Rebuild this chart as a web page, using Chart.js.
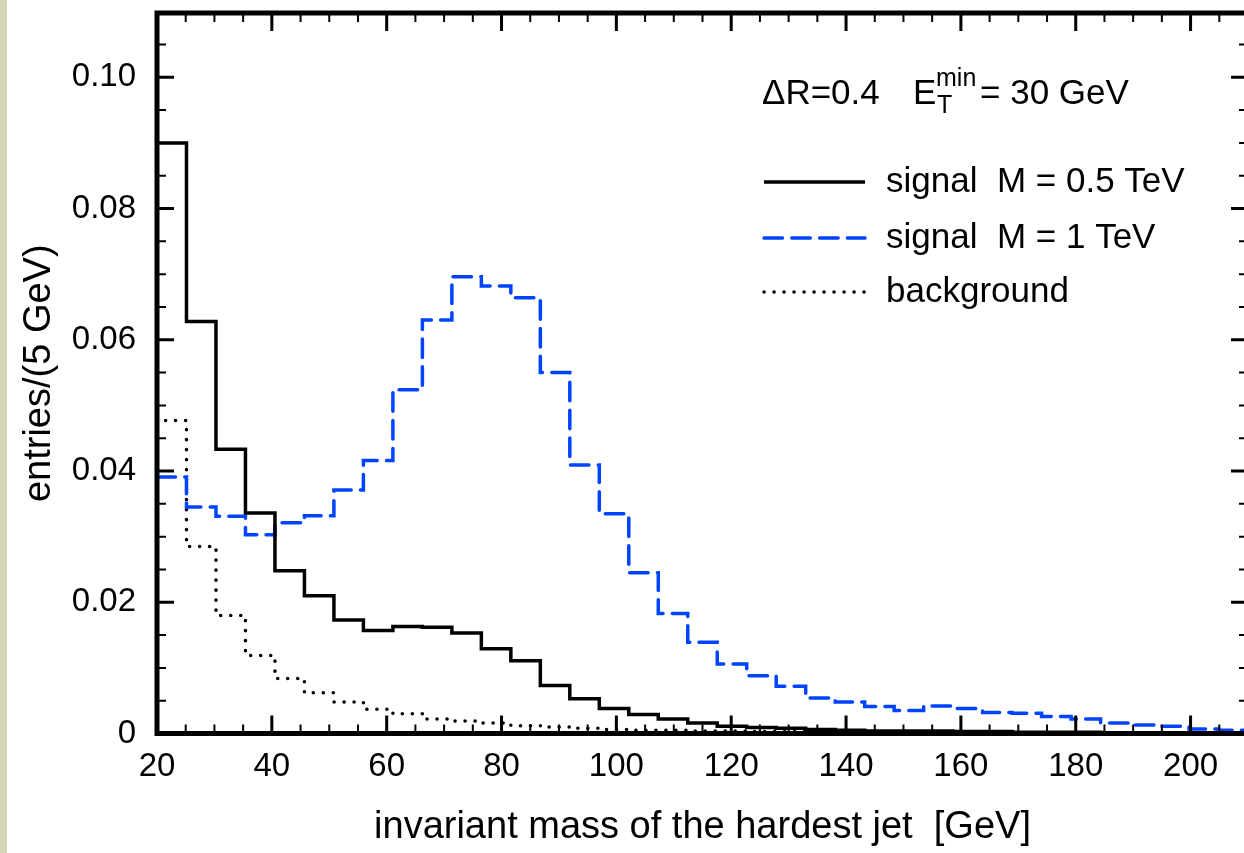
<!DOCTYPE html>
<html>
<head>
<meta charset="utf-8">
<script src="https://cdn.jsdelivr.net/npm/chart.js@4.4.1/dist/chart.umd.min.js"></script>
<style>
  html, body { margin: 0; padding: 0; background: #fff; overflow: hidden; }
  #wrap { position: relative; width: 1244px; height: 853px; overflow: hidden; }
  #edge { position: absolute; left: 0; top: 0; width: 7px; height: 853px; background: #d6d4b2; }
  canvas { position: absolute; left: 0; top: 0; }
</style>
</head>
<body>
<div id="wrap">
  <canvas id="jet-mass-chart" width="1256" height="853"></canvas>
  <div id="edge"></div>
</div>
<script>
const canvasChart = document.querySelector('#jet-mass-chart');

// 37 bins between 20 and 210 GeV, first value of each series is the bin left of the axis
const binStart = 20;
const binWidth = 190 / 37;

const signal05 = [0.12, 0.0900, 0.0628, 0.0433, 0.0336, 0.0248, 0.0210, 0.0173, 0.0157, 0.0163,
  0.0162, 0.0153, 0.0129, 0.0111, 0.0073, 0.0053, 0.0038, 0.0029, 0.0022, 0.0016,
  0.0011, 0.0009, 0.0008, 0.0006, 0.0005, 0.0004, 0.0004, 0.0004, 0.0003, 0.0003,
  0.0002, 0.0002, 0.0002, 0.0001, 0.0001, 0.0001, 0.0001, 0.0001];
const signal1 = [null, 0.0391, 0.0345, 0.0331, 0.0303, 0.0321, 0.0332, 0.0371, 0.0416, 0.0524,
  0.0630, 0.0696, 0.0682, 0.0664, 0.0550, 0.0409, 0.0335, 0.0245, 0.0183, 0.0139,
  0.0106, 0.0088, 0.0072, 0.0054, 0.0048, 0.0041, 0.0035, 0.0042, 0.0038, 0.0032,
  0.0031, 0.0026, 0.0022, 0.0016, 0.0013, 0.0011, 0.0007, 0.0005];
const background = [0.080, 0.0477, 0.0285, 0.0180, 0.0119, 0.0084, 0.0062, 0.0048, 0.0037, 0.0030,
  0.0022, 0.0019, 0.0016, 0.0012, 0.0010, 0.0008, 0.0006, 0.0005, 0.0005, 0.0004,
  0.0004, 0.0003, 0.0003, 0.0003, 0.0002, 0.0002, 0.0002, 0.0002, 0.0001, 0.0001,
  0.0001, 0.0001, 0.0001, 0.0001, 0.0001, 0.0001, 0.0001, 0.0001];

const seriesLabels = ['signal  M = 0.5 TeV', 'signal  M = 1 TeV', 'background'];

const xTicks = [20, 40, 60, 80, 100, 120, 140, 160, 180, 200];
const yTicks = [0, 0.02, 0.04, 0.06, 0.08, 0.10];
const xRange = [20, 210];
const yRange = [0, 0.1098];

const fontFamily = "'Liberation Sans', Arial, Helvetica, sans-serif";

// step outline: one point per bin left edge plus the closing right edge
function histPoints(values) {
  let pts = values.map((v, i) => ({ x: binStart + (i - 1) * binWidth, y: v }));
  pts.push({ x: binStart + (values.length - 1) * binWidth, y: values[values.length - 1] });
  return pts;
}

const frame = {
  id: 'frame',
  afterDatasetsDraw(chart) {
    const { ctx, chartArea: a, scales: { x, y } } = chart;
    ctx.save();
    ctx.strokeStyle = '#000';
    ctx.lineCap = 'butt';

    let tick = (px, len, w, horiz) => {
      ctx.lineWidth = w;
      ctx.beginPath();
      if (horiz) {
        ctx.moveTo(px, a.bottom); ctx.lineTo(px, a.bottom - len);
        ctx.moveTo(px, a.top); ctx.lineTo(px, a.top + len);
      } else {
        ctx.moveTo(a.left, px); ctx.lineTo(a.left + len, px);
        ctx.moveTo(a.right, px); ctx.lineTo(a.right - len, px);
      }
      ctx.stroke();
    };

    for (let v = xRange[0]; v <= xRange[1]; v += 5) {
      const major = xTicks.includes(v);
      tick(x.getPixelForValue(v), major ? 18 : 9, major ? 3 : 2, true);
    }
    for (let i = 0; i * 0.005 <= yRange[1]; i++) {
      const major = i % 4 === 0;
      tick(y.getPixelForValue(i * 0.005), major ? 17 : 9, major ? 3 : 2, false);
    }

    ctx.lineWidth = 5;
    ctx.strokeRect(a.left, a.top, a.right - a.left, a.bottom - a.top);
    ctx.restore();
  },
  afterDraw(chart) {
    const ctx = chart.ctx;
    ctx.save();
    ctx.fillStyle = '#000';
    ctx.textBaseline = 'alphabetic';
    ctx.textAlign = 'left';

    // cut annotation
    ctx.font = '35px ' + fontFamily;
    ctx.fillText('\u0394R=0.4', 762, 104);
    ctx.fillText('E', 913, 104);
    ctx.fillText('= 30 GeV', 980, 104);
    ctx.font = '25px ' + fontFamily;
    ctx.fillText('T', 937, 113);
    ctx.fillText('min', 936, 86);

    // legend
    const rows = [182, 238, 292];
    chart.data.datasets.forEach((ds, i) => {
      ctx.strokeStyle = ds.borderColor;
      ctx.lineWidth = ds.borderWidth;
      ctx.lineCap = ds.borderCapStyle;
      ctx.setLineDash(ds.borderDash);
      ctx.beginPath();
      ctx.moveTo(764, rows[i]);
      ctx.lineTo(865, rows[i]);
      ctx.stroke();
      ctx.setLineDash([]);
      ctx.font = '35px ' + fontFamily;
      ctx.fillText(ds.label, 886, rows[i] + 10);
    });
    ctx.restore();
  },
};

let config = {
  type: 'line',
  data: {
    datasets: [
      {
        label: seriesLabels[0],
        data: histPoints(signal05),
        borderColor: '#000000',
        borderWidth: 3.5,
        borderDash: [],
        borderCapStyle: 'butt',
      },
      {
        label: seriesLabels[1],
        data: histPoints(signal1),
        borderColor: '#0044ff',
        borderWidth: 3.5,
        borderDash: [18.5, 9.3],
        borderCapStyle: 'round',
      },
      {
        label: seriesLabels[2],
        data: histPoints(background),
        borderColor: '#000000',
        borderWidth: 3.5,
        borderDash: [0.1, 9.9],
        borderCapStyle: 'round',
      },
    ],
  },
  options: {
    responsive: false,
    animation: false,
    events: [],
    layout: { padding: { top: 13, right: 8, left: 0, bottom: 0 } },
    elements: {
      point: { radius: 0 },
      line: { stepped: 'before', tension: 0, fill: false, borderJoinStyle: 'miter' },
    },
    plugins: { legend: { display: false }, tooltip: { enabled: false } },
    scales: {
      x: {
        type: 'linear',
        min: xRange[0],
        max: xRange[1],
        grid: { display: false, drawTicks: false },
        border: { display: false },
        ticks: {
          color: '#000',
          font: { family: fontFamily, size: 33 },
          padding: 14,
          maxRotation: 0,
          autoSkip: false,
          callback: (v) => String(v),
        },
        afterBuildTicks: (s) => { s.ticks = xTicks.map((v) => ({ value: v })); },
        afterFit: (s) => { s.height = 119.5; s.paddingLeft = 0; s.paddingRight = 0; },
        title: {
          display: true,
          text: 'invariant mass of the hardest jet  [GeV]',
          color: '#000',
          font: { family: fontFamily, size: 38 },
          padding: { top: 0, bottom: 3 },
        },
      },
      y: {
        type: 'linear',
        min: yRange[0],
        max: yRange[1],
        grid: { display: false, drawTicks: false },
        border: { display: false },
        ticks: {
          color: '#000',
          font: { family: fontFamily, size: 33 },
          padding: 21,
          callback: (v) => (v === 0 ? '0' : v.toFixed(2)),
        },
        afterBuildTicks: (s) => { s.ticks = yTicks.map((v) => ({ value: v })); },
        afterFit: (s) => { s.width = 157; s.paddingTop = 0; s.paddingBottom = 0; },
        title: {
          display: true,
          text: 'entries/(5 GeV)',
          color: '#000',
          font: { family: fontFamily, size: 38 },
          padding: { top: 17, bottom: 0 },
        },
      },
    },
  },
  plugins: [frame],
};

let chart = new Chart(canvasChart, config);
</script>
</body>
</html>
